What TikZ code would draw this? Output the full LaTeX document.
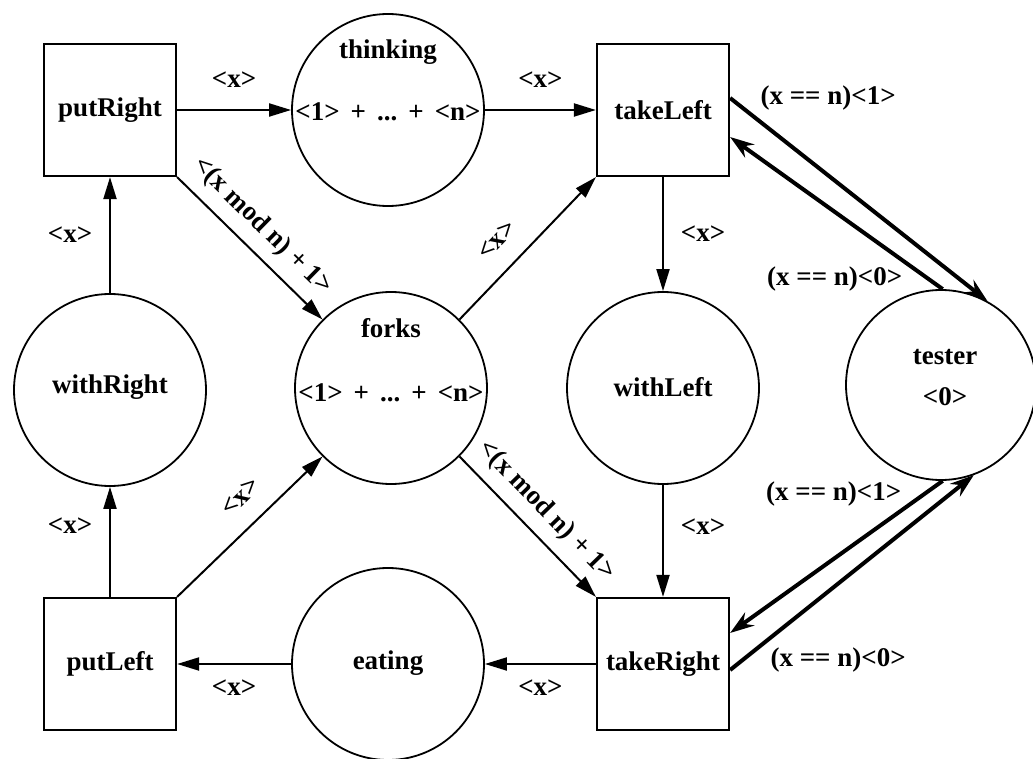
\documentclass[tikz,border=0pt]{standalone}
\usepackage{fontspec}
\setmainfont{Liberation Serif}
\usetikzlibrary{arrows.meta}
\newcommand{\tokgap}{\hspace{11pt}}
\begin{document}
\begin{tikzpicture}[x=1pt,y=-1pt,
  every node/.style={font=\fontsize{27}{31}\selectfont\bfseries},
  boxnode/.style={draw, line width=2.2pt, minimum size=132pt, inner sep=0pt},
  placenode/.style={draw, circle, line width=1.8pt, minimum size=192pt, inner sep=0pt},
  txt/.style={inner sep=2pt},
  thinarrow/.style={line width=2pt, -{Triangle[length=22pt,width=13pt]}},
  thickarrow/.style={line width=4pt, -{Stealth[length=24pt,width=16pt,inset=8pt]}}
]
\useasboundingbox (0,0) rectangle (1033,759);
\clip (0,0) rectangle (1033,759);

% places and transitions
\node[boxnode] (putRight) at (110,110) {putRight};
\node[placenode] (thinking) at (388,110) {};
\node[txt] (thinkingName) at (388,52) {thinking};
\node[txt] (thinkingTok) at (388,112) {<1>\tokgap+\tokgap...\tokgap+\tokgap<n>};
\node[boxnode] (takeLeft) at (663,110) {takeLeft};

\node[placenode] (withRight) at (110,390) {};
\node[txt] (withRightName) at (110,387) {withRight};
\node[placenode] (forks) at (391,388) {};
\node[txt] (forksName) at (391,328) {forks};
\node[txt] (forksTok) at (391,393) {<1>\tokgap+\tokgap...\tokgap+\tokgap<n>};
\node[placenode] (withLeft) at (663,388) {};
\node[txt] (withLeftName) at (663,387) {withLeft};
\node[placenode, minimum size=190pt] (tester) at (941,385) {};
\node[txt] (testerName) at (945,357) {tester};
\node[txt] (testerTok) at (945,397) {<0>};

\node[boxnode] (putLeft) at (110,664) {putLeft};
\node[placenode] (eating) at (388,664) {};
\node[txt] (eatingName) at (388,663) {eating};
\node[boxnode] (takeRight) at (663,664) {takeRight};

% horizontal arrows
\draw[thinarrow] (putRight.east) -- (thinking.west)
  node[txt, midway, yshift=30pt] {<x>};
\draw[thinarrow] (thinking.east) -- (takeLeft.west)
  node[txt, midway, yshift=30pt] {<x>};
\draw[thinarrow] (eating.west) -- (putLeft.east)
  node[txt, midway, yshift=-24pt] {<x>};
\draw[thinarrow] (takeRight.west) -- (eating.east)
  node[txt, midway, yshift=-24pt] {<x>};

% vertical arrows
\draw[thinarrow] (withRight.north) -- (putRight.south)
  node[txt, midway, xshift=-40pt] {<x>};
\draw[thinarrow] (putLeft.north) -- (withRight.south)
  node[txt, midway, xshift=-40pt, yshift=16pt] {<x>};
\draw[thinarrow] (takeLeft.south) -- (withLeft.north)
  node[txt, midway, xshift=40pt] {<x>};
\draw[thinarrow] (withLeft.south) -- (takeRight.north)
  node[txt, midway, xshift=40pt, yshift=14pt] {<x>};

% diagonal arrows
\draw[thinarrow] (putRight.south east) -- (forks.north west)
  node[txt, pos=0.47, sloped, above=9pt] {<(x mod n) + 1>};
\draw[thinarrow] (forks.south east) -- (takeRight.north west)
  node[txt, pos=0.51, sloped, above=9pt] {<(x mod n) + 1>};
\draw[thinarrow] (forks.north east) -- (takeLeft.south west)
  node[txt, pos=0.42, sloped, above=17pt] {<x>};
\draw[thinarrow] (putLeft.north east) -- (forks.south west)
  node[txt, pos=0.57, sloped, above=17pt] {<x>};

% tester arrows
\draw[thickarrow] ([yshift=12pt]takeLeft.east) -- (tester.61)
  node[txt, pos=0, xshift=98pt] {(x == n)<1>};
\draw[thickarrow] (tester.89) -- ([yshift=-27pt]takeLeft.east)
  node[txt, pos=0, xshift=-108pt, yshift=10pt] {(x == n)<0>};
\draw[thickarrow] (tester.271) -- ([yshift=31pt]takeRight.east)
  node[txt, pos=0, xshift=-109pt, yshift=-13pt] {(x == n)<1>};
\draw[thickarrow] ([yshift=-6pt]takeRight.east) -- (tester.290)
  node[txt, pos=0, xshift=108pt, yshift=10pt] {(x == n)<0>};
\end{tikzpicture}
\end{document}
